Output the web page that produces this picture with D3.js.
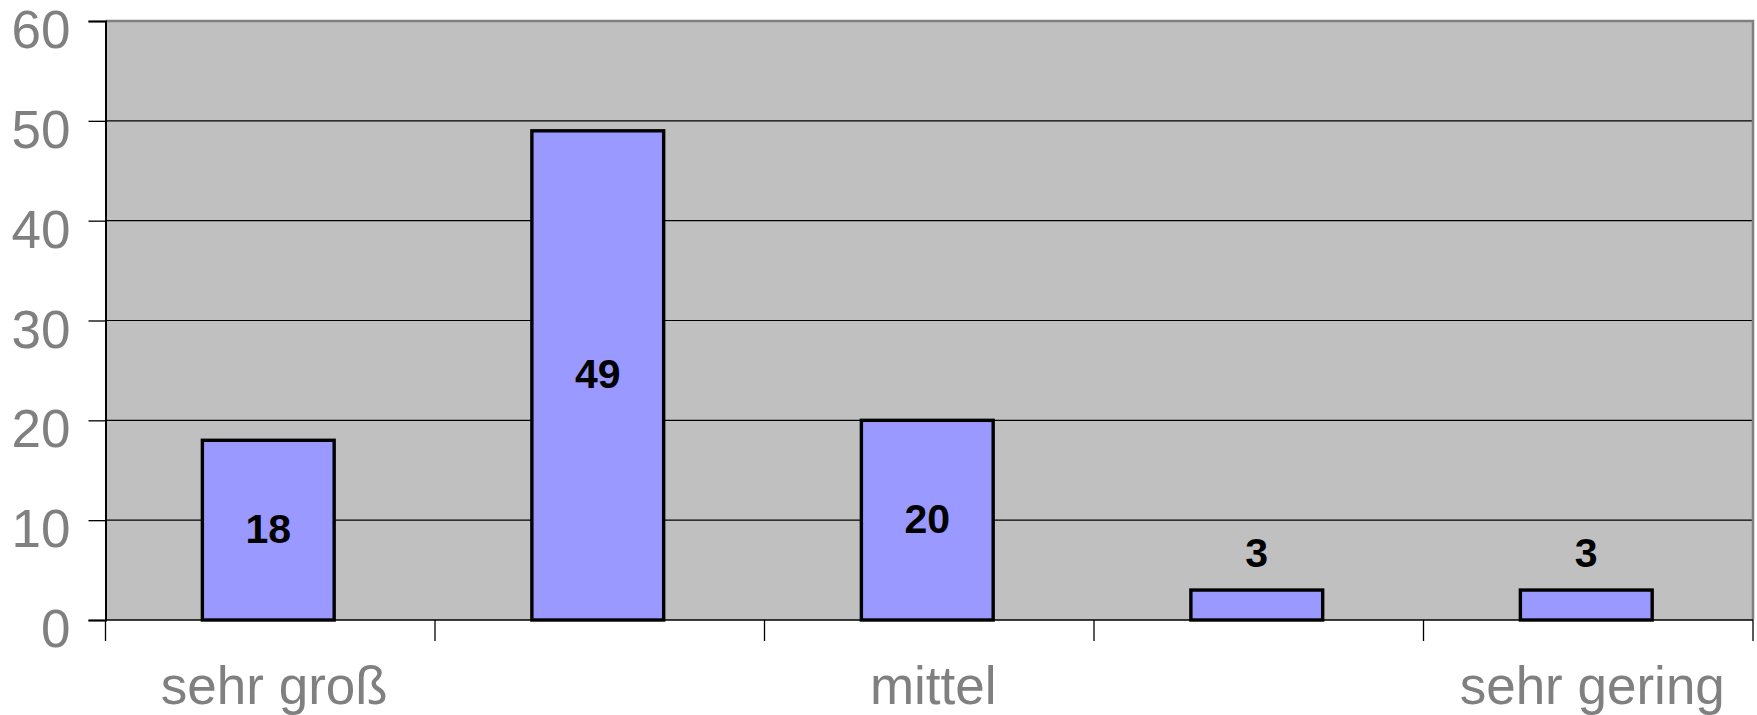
<!DOCTYPE html>
<html>
<head>
<meta charset="utf-8">
<script src="https://cdn.jsdelivr.net/npm/d3@7"></script>
<style>
  html, body { margin: 0; padding: 0; background: #ffffff; }
  svg { display: block; }
  text { font-family: "Liberation Sans", Arial, Helvetica, sans-serif; }
</style>
</head>
<body>
<svg id="chart" width="1757" height="715"></svg>
<script>
// ---- data ----
const categoryLabels = ["sehr groß", "", "mittel", "", "sehr gering"];
const values = [18, 49, 20, 3, 3];
const yTicks = [0, 10, 20, 30, 40, 50, 60];

// ---- layout ----
const plot = { left: 105.5, right: 1753, top: 21, bottom: 620 };

const svg = d3.select("#chart");

const x = d3.scaleBand()
  .domain(d3.range(values.length))
  .range([plot.left, plot.right])
  .paddingInner(0.6)
  .paddingOuter(0.3)
  .align(0.49);

const y = d3.scaleLinear()
  .domain([0, 60])
  .range([plot.bottom, plot.top]);

// plot background
svg.append("rect")
  .attr("x", plot.left).attr("y", plot.top)
  .attr("width", plot.right - plot.left)
  .attr("height", plot.bottom - plot.top)
  .attr("fill", "#c0c0c0");

// gridlines
svg.append("g").selectAll("line")
  .data(yTicks.filter(t => t > 0 && t < 60))
  .join("line")
  .attr("x1", plot.left).attr("x2", plot.right)
  .attr("y1", d => y(d)).attr("y2", d => y(d))
  .attr("stroke", "#000").attr("stroke-width", 1.2);

// plot border (top and right, gray)
svg.append("path")
  .attr("d", `M${plot.left},${plot.top}H${plot.right}V${plot.bottom}`)
  .attr("fill", "none").attr("stroke", "#808080").attr("stroke-width", 2.5);

// bars
svg.append("g").selectAll("rect")
  .data(values)
  .join("rect")
  .attr("x", (d, i) => x(i))
  .attr("y", d => y(d))
  .attr("width", x.bandwidth())
  .attr("height", d => y(0) - y(d))
  .attr("fill", "#9999ff")
  .attr("stroke", "#000")
  .attr("stroke-width", 3.4);

// y axis
const yAxis = d3.axisLeft(y)
  .tickValues(yTicks)
  .tickSize(17)
  .tickPadding(18)
  .tickFormat(d3.format("d"));
const gy = svg.append("g")
  .attr("transform", `translate(${plot.left},0)`)
  .call(yAxis);
gy.select(".domain").attr("stroke", "#000").attr("stroke-width", 2);
gy.selectAll(".tick line").attr("stroke", "#000").attr("stroke-width", 1.3);
gy.selectAll(".tick text")
  .attr("fill", "#808080")
  .attr("font-size", 53)
  .attr("font-family", "Liberation Sans, Arial, sans-serif")
  .attr("dy", "0.5em");

// x axis line
svg.append("line")
  .attr("x1", plot.left).attr("x2", plot.right)
  .attr("y1", plot.bottom).attr("y2", plot.bottom)
  .attr("stroke", "#000").attr("stroke-width", 1.5);

// x axis boundary ticks (category boundaries)
const catW = (plot.right - plot.left) / values.length;
const boundaries = d3.range(values.length + 1).map(i => plot.left + i * catW);
svg.append("g").selectAll("line")
  .data(boundaries)
  .join("line")
  .attr("x1", d => d).attr("x2", d => d)
  .attr("y1", plot.bottom).attr("y2", plot.bottom + 21)
  .attr("stroke", "#000").attr("stroke-width", 1.3);

// category labels
svg.append("g").selectAll("text")
  .data(categoryLabels)
  .join("text")
  .attr("x", (d, i) => plot.left + (i + 0.5) * catW + 4)
  .attr("y", 704)
  .attr("text-anchor", "middle")
  .attr("fill", "#808080")
  .attr("font-size", 53)
  .text(d => d);

// data labels
const labelFont = 41;
svg.append("g").selectAll("text")
  .data(values)
  .join("text")
  .attr("x", (d, i) => x(i) + x.bandwidth() / 2)
  .attr("y", d => {
    const h = y(0) - y(d);
    if (h > labelFont * 1.5) return (y(d) + y(0)) / 2 - 2;
    return y(d) - 38;
  })
  .attr("dy", "0.36em")
  .attr("text-anchor", "middle")
  .attr("font-weight", "bold")
  .attr("font-size", labelFont)
  .attr("fill", "#000")
  .text(d => d);
</script>
</body>
</html>
